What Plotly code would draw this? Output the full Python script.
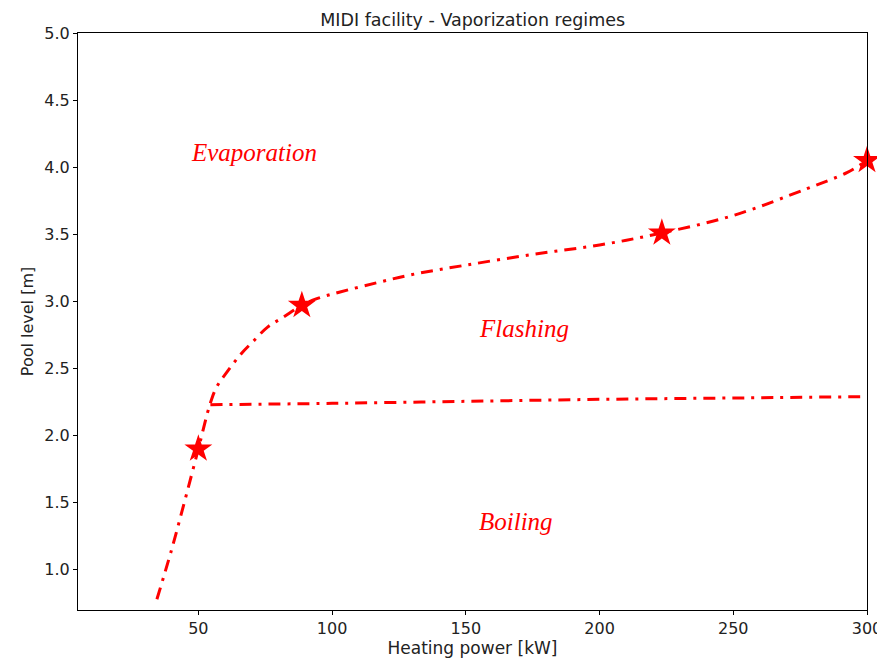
import plotly.graph_objects as go

# Frontiera evaporazione / flashing / boiling (curva superiore)
upper_x = [34.5, 40, 45, 50, 54.3, 56.8, 60.6, 65.6, 70.4, 76, 81.6, 88.7,
           94.3, 103, 117, 130, 150, 175, 200, 223.3, 250, 277.5, 292.5, 300]
upper_y = [0.78, 1.15, 1.52, 1.9, 2.23, 2.36, 2.47, 2.60, 2.70, 2.81, 2.88, 2.97,
           3.02, 3.07, 3.14, 3.20, 3.27, 3.35, 3.42, 3.51, 3.64, 3.84, 3.96, 4.05]

# Frontiera flashing / boiling (curva inferiore)
lower_x = [54.5, 100, 150, 200, 250, 300]
lower_y = [2.23, 2.24, 2.255, 2.27, 2.28, 2.29]

# Punti sperimentali (stelle)
star_x = [50, 88.7, 223.3, 300]
star_y = [1.9, 2.97, 3.51, 4.05]

# Etichette dei regimi
label_text = ["Evaporation", "Flashing", "Boiling"]
label_x = [70.8, 171.7, 168.7]
label_y = [4.11, 2.80, 1.36]

x_ticks = [50, 100, 150, 200, 250, 300]
y_ticks = [1.0, 1.5, 2.0, 2.5, 3.0, 3.5, 4.0, 4.5, 5.0]

dash = "12px,7px,3px,7px"

fig = go.Figure()
fig.add_trace(go.Scatter(x=upper_x, y=upper_y, mode="lines", line_shape="spline",
                         line=dict(color="red", width=3, dash=dash), showlegend=False))
fig.add_trace(go.Scatter(x=lower_x, y=lower_y, mode="lines", line_shape="spline",
                         line=dict(color="red", width=3, dash=dash), showlegend=False))
fig.add_trace(go.Scatter(x=star_x, y=star_y, mode="markers",
                         marker=dict(symbol="star", size=21, color="red"),
                         showlegend=False, cliponaxis=False))

for t, x, y in zip(label_text, label_x, label_y):
    fig.add_annotation(x=x, y=y, text=f"<i>{t}</i>", showarrow=False,
                       font=dict(family="Liberation Serif", size=25, color="red"))

axis_common = dict(showline=True, linecolor="black", linewidth=1, mirror=True,
                   ticks="outside", ticklen=4, tickcolor="black", showgrid=False,
                   zeroline=False, automargin=False,
                   tickfont=dict(family="DejaVu Sans", size=16, color="#222"))

fig.update_xaxes(range=[5, 300], tickvals=x_ticks,
                 title=dict(text="Heating power [kW]", standoff=4,
                            font=dict(family="DejaVu Sans", size=17, color="#222")),
                 **axis_common)
fig.update_yaxes(range=[0.7, 5.0], tickvals=y_ticks, tickformat=".1f",
                 title=dict(text="Pool level [m]", standoff=6,
                            font=dict(family="DejaVu Sans", size=16, color="#222")),
                 **axis_common)

# la pagina aggiunge ~8px di margine: margini compensati
fig.update_layout(
    title=dict(text="MIDI facility - Vaporization regimes", x=0.525, xanchor="center",
               y=0.983, yanchor="middle",
               font=dict(family="DejaVu Sans", size=17.5, color="#222")),
    width=885, height=670,
    margin=dict(l=70, r=26, t=25, b=68),
    plot_bgcolor="white", paper_bgcolor="white",
)

fig.write_html("out.html")
